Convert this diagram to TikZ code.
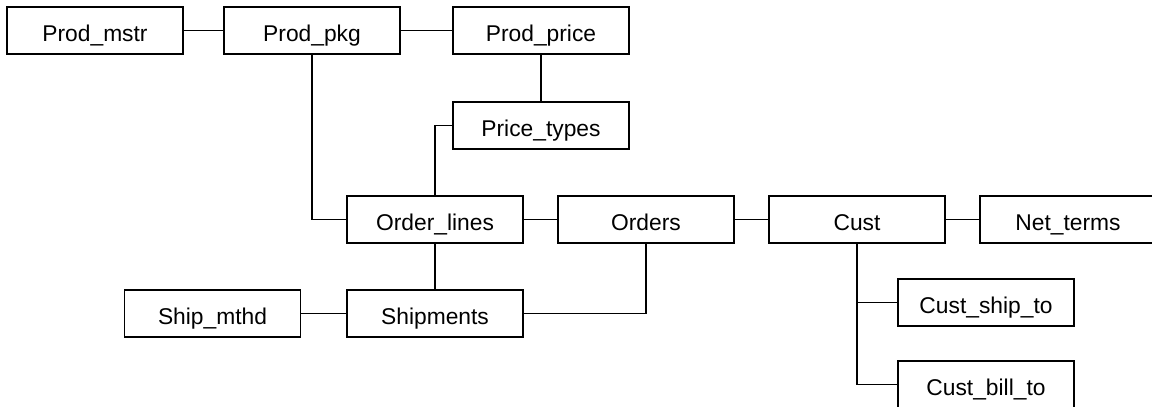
\documentclass[tikz,border=0pt]{standalone}
\usepackage{fontspec}
\setmainfont{Liberation Sans}
\usepackage{tikz}
\usetikzlibrary{positioning,calc}

\begin{document}
\begin{tikzpicture}[x=0.5pt,y=-0.5pt,
    tbl/.style={draw,rectangle,line width=0.6pt,minimum width=88pt,minimum height=23.5pt,
      inner sep=0pt,text height=11pt,text depth=0pt,font=\fontsize{11.4}{13}\selectfont},
    lnk/.style={line width=0.6pt}]
  \useasboundingbox (0,0) rectangle (1152,407);

  % Produkt-Tabellen
  \node[tbl] (prodmstr) at (95,30.5) {Prod\_mstr};
  \node[tbl] (prodpkg) at (312,30.5) {Prod\_pkg};
  \node[tbl] (prodprice) at (541,30.5) {Prod\_price};
  \node[tbl] (pricetypes) at (541,125.5) {Price\_types};

  % Auftraege und Versand
  \node[tbl] (orderlines) at (435,219.5) {Order\_lines};
  \node[tbl] (orders) at (646,219.5) {Orders};
  \node[tbl] (shipmthd) at (212.5,313.5) {Ship\_mthd};
  \node[tbl] (shipments) at (435,313.5) {Shipments};

  % Kunden
  \node[tbl] (cust) at (857,219.5) {Cust};
  \node[tbl] (netterms) at (1068,219.5) {Net\_terms};
  \node[tbl] (custshipto) at (986,302.5) {Cust\_ship\_to};
  \node[tbl] (custbillto) at (986,384.5) {Cust\_bill\_to};

  % Verbindungen
  \draw[lnk] (prodmstr) -- (prodpkg);
  \draw[lnk] (prodpkg) -- (prodprice);
  \draw[lnk] (prodprice) -- (pricetypes);
  \draw[lnk] (pricetypes.west) -| (orderlines.north);
  \draw[lnk] (prodpkg.south) |- (orderlines.west);
  \draw[lnk] (orderlines) -- (orders);
  \draw[lnk] (orders) -- (cust);
  \draw[lnk] (cust) -- (netterms);
  \draw[lnk] (orderlines) -- (shipments);
  \draw[lnk] (shipmthd) -- (shipments);
  \draw[lnk] (shipments.east) -| (orders.south);
  \draw[lnk] (cust.south) |- (custshipto.west);
  \draw[lnk] (cust.south) |- (custbillto.west);
\end{tikzpicture}
\end{document}
